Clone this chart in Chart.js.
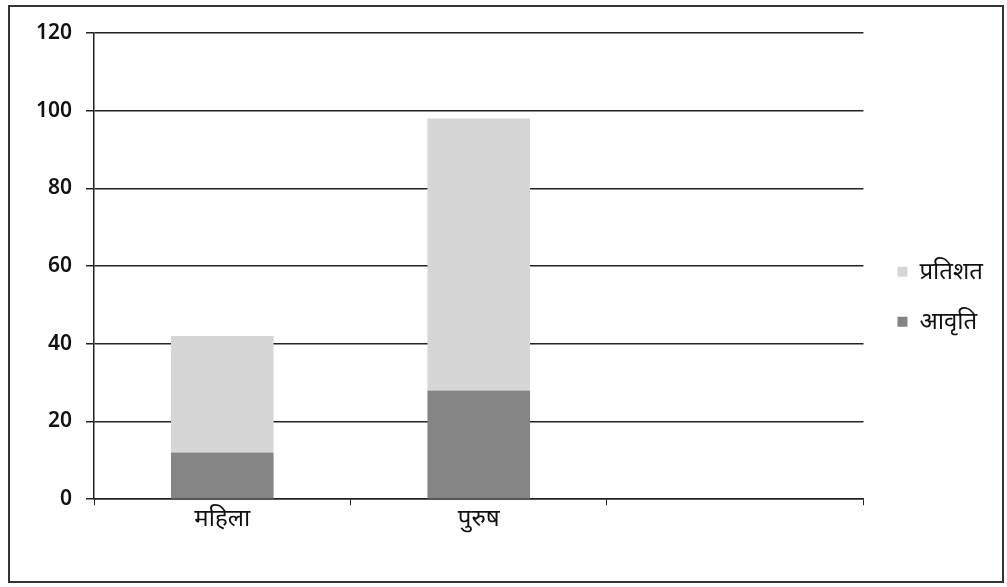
<!DOCTYPE html>
<html>
<head>
<meta charset="utf-8">
<script src="https://cdn.jsdelivr.net/npm/chart.js@4/dist/chart.umd.min.js"></script>
<style>
    html, body { margin: 0; padding: 0; background: #fff; }
    #wrap { position: relative; width: 1007px; height: 587px; }
    #frame { position: absolute; left: 8px; top: 5px; width: 996px; height: 578px; border: 2px solid #333; box-sizing: border-box; pointer-events: none; }
</style>
</head>
<body>
<div id="wrap">
    <canvas id="chart" width="1007" height="587"></canvas>
    <div id="frame"></div>
</div>
<script>
// Dados do gráfico
const categories = ['महिला', 'पुरुष', ''];
const aavritiValues = [12, 28, null];
const pratishatValues = [30, 70, null];
const seriesNames = ['आवृति', 'प्रतिशत'];
const yMax = 120;
const yStep = 20;

const tickFont = { family: "'Noto Sans', 'DejaVu Sans', sans-serif", size: 21, weight: '600' };
const labelFont = { family: "'Noto Sans', 'Noto Sans Devanagari', sans-serif", size: 24 };

const ctx = document.getElementById('chart');

new Chart(ctx, {
    type: 'bar',
    data: {
        labels: categories,
        datasets: [{
            label: seriesNames[0],
            data: aavritiValues,
            backgroundColor: '#858585',
            borderWidth: 0
        }, {
            label: seriesNames[1],
            data: pratishatValues,
            backgroundColor: '#d6d6d6',
            borderWidth: 0
        }]
    },
    options: {
        responsive: false,
        animation: false,
        layout: {
            padding: { left: 22, right: 14, top: 33, bottom: 53 }
        },
        datasets: {
            bar: { categoryPercentage: 1, barPercentage: 0.4 }
        },
        scales: {
            x: {
                stacked: true,
                grid: {
                    offset: true,
                    drawOnChartArea: false,
                    color: '#222',
                    tickLength: 6
                },
                border: { color: '#222', width: 1.5 },
                ticks: { color: '#111', font: labelFont, padding: 0 }
            },
            y: {
                stacked: true,
                min: 0,
                max: yMax,
                ticks: { stepSize: yStep, color: '#111', font: tickFont, padding: 14 },
                grid: { color: '#222', lineWidth: 1.5, tickLength: 8 },
                border: { color: '#222', width: 1.5 }
            },
            // espaço vazio entre a área do gráfico e a legenda
            gap: {
                type: 'linear',
                position: 'right',
                display: true,
                ticks: { display: false },
                grid: { display: false },
                border: { display: false },
                afterFit: (scale) => { scale.width = 8; }
            }
        },
        plugins: {
            legend: {
                position: 'right',
                reverse: true,
                title: { display: true, text: ' ', padding: 0, font: { size: 22 } },
                labels: {
                    boxWidth: 10,
                    boxHeight: 10,
                    padding: 26,
                    color: '#111',
                    font: labelFont
                }
            },
            tooltip: { enabled: false }
        }
    }
});
</script>
</body>
</html>
